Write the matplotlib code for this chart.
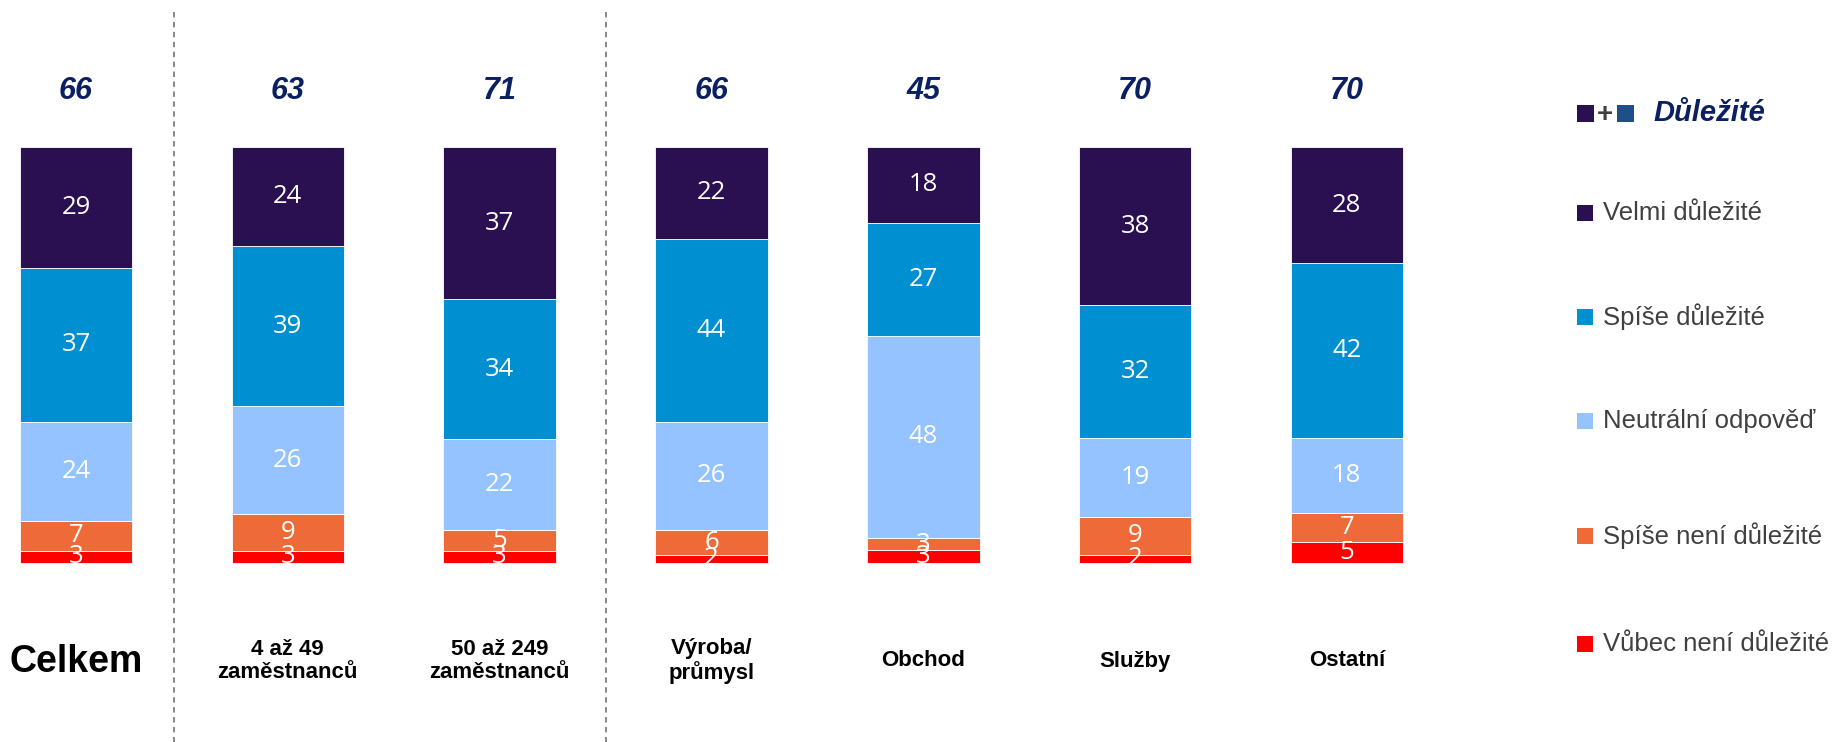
import numpy as np
import matplotlib.pyplot as plt
from matplotlib.patches import Rectangle

plt.rcParams['font.family'] = ['Liberation Sans', 'DejaVu Sans']

# data (stacked from bottom to top: vubec, spise neni, neutralni, spise, velmi)
categories = ['Celkem', '4 až 49\nzaměstnanců', '50 až 249\nzaměstnanců',
              'Výroba/\nprůmysl', 'Obchod', 'Služby', 'Ostatní']
velmi = [29, 24, 37, 22, 18, 38, 28]
spise = [37, 39, 34, 44, 27, 32, 42]
neutral = [24, 26, 22, 26, 48, 19, 18]
spise_neni = [7, 9, 5, 6, 3, 9, 7]
vubec = [3, 3, 3, 2, 3, 2, 5]

series_names = ['Vůbec není důležité', 'Spíše není důležité', 'Neutrální odpověď',
                'Spíše důležité', 'Velmi důležité']
colors = ['#ff0000', '#ee6a39', '#94c3ff', '#008fd0', '#2a1050']
navy = '#0b2062'

W, H = 1839, 742
fig = plt.figure(figsize=(W / 100, H / 100), dpi=100)
ax = fig.add_axes([0, 0, 1, 1])

# pixel -> data mapping (bar centers every ~212 px starting at 76 px, 0..100 between y=563 and y=147)
x0, dx = 76, 211.8
yb, yt = 563, 147
sy = 100 / (yb - yt)
ax.set_xlim((0 - x0) / dx, (W - x0) / dx)
ax.set_ylim(-(H - yb) * sy, 100 + yt * sy)
ax.axis('off')

data = np.array([vubec, spise_neni, neutral, spise, velmi], dtype=float)
pct = data / data.sum(axis=0) * 100
x = np.arange(len(categories))
width = 112.6 / dx

bottom = np.zeros(len(categories))
for k in range(len(series_names)):
    bars = ax.bar(x, pct[k], width, bottom=bottom, color=colors[k],
                  edgecolor='white', linewidth=0.6)
    for i, b in enumerate(bars):
        ax.text(b.get_x() + b.get_width() / 2, bottom[i] + pct[k][i] / 2,
                f'{int(data[k][i])}', ha='center', va='center', color='white',
                fontsize=18.5, family=['Open Sans', 'DejaVu Sans'])
    bottom += pct[k]

# totals (velmi + spise)
totals = np.array(velmi) + np.array(spise)
for i, t in enumerate(totals):
    ax.text(x[i], 100 + (yt - 91) * sy, str(t), ha='center', va='center',
            fontsize=22, fontweight='bold', fontstyle='italic', color=navy)

# category labels
for i, c in enumerate(categories):
    if i == 0:
        ax.text(x[i], -(662 - yb) * sy, c, ha='center', va='center',
                fontsize=27, fontweight='bold', color='black')
    else:
        ax.text(x[i], -(661 - yb) * sy, c, ha='center', va='center',
                fontsize=16, fontweight='bold', color='black', linespacing=1.1)

# dashed separators
for px in [174, 605.5]:
    ax.plot([(px - x0) / dx] * 2, [100 + (yt - 12) * sy, -(H - yb) * sy],
            ls=(0, (3, 2.5)), color='#7f7f7f', lw=1.3, clip_on=False)

# legend
def px2fig(px, py):
    return px / W, 1 - py / H

def square(px, py, col, sq=16):
    fx, fy = px2fig(px, py + sq / 2)
    fig.patches.append(Rectangle((fx, fy), sq / W, sq / H, transform=fig.transFigure,
                                 facecolor=col, edgecolor='none'))

hy = 113
square(1577, hy, '#2a1050', 17)
fig.text(*px2fig(1605, hy + 2), '+', ha='center', va='center', fontsize=20,
         fontweight='bold', color='#404040')
square(1617, hy, '#1f4e89', 17)
fig.text(*px2fig(1653, hy), 'Důležité', ha='left', va='center', fontsize=21,
         fontweight='bold', fontstyle='italic', color=navy)

legend_y = [213, 317, 421, 536, 644]
for name, col, ly in zip(series_names[::-1], colors[::-1], legend_y):
    square(1577, ly, col)
    fig.text(*px2fig(1603, ly), name, ha='left', va='center', fontsize=18.5,
             color='#404040')

fig.savefig('out.png', dpi=100)
